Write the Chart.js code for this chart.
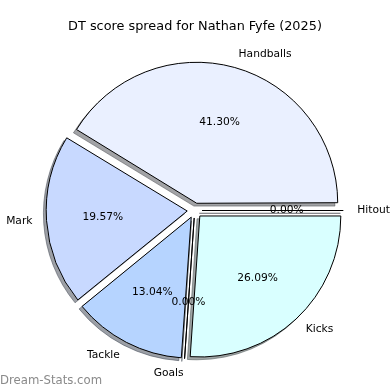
<!DOCTYPE html>
<html><head><meta charset="utf-8">
<script src="https://cdn.jsdelivr.net/npm/chart.js@4/dist/chart.umd.min.js"></script>
<style>html,body{margin:0;padding:0;background:#fff;overflow:hidden}</style>
</head><body>
<canvas id="c" width="390" height="390"></canvas>
<script>
const chartTitle = 'DT score spread for Nathan Fyfe (2025)';
const categories = ['Handballs', 'Mark', 'Tackle', 'Goals', 'Kicks', 'Hitout'];
const dtPoints = [38, 18, 12, 0, 24, 0];
const sliceColors = ['#eaf0ff', '#c8d9ff', '#b6d4ff', '#c0e0ff', '#d9ffff', '#e0f0ff'];
const watermark = 'Dream-Stats.com';

const total = dtPoints.reduce((a, b) => a + b, 0);
const percentLabels = dtPoints.map(v => (v / total * 100).toFixed(2) + '%');

// Chart.js goes clockwise from the start angle; the reference runs counter-clockwise from 3 o'clock
const order = categories.map((_, i) => i).reverse();

const R = 141, EXPLODE = 7.5, SHADOW = 2.8;
const FONT = '"DejaVu Sans", sans-serif';
const LABEL_PX = 10.7;

function hexToRgb(h) {
  h = h.replace('#', '');
  return [0, 2, 4].map(k => parseInt(h.substr(k, 2), 16));
}
function wedgePath(ctx, arc, radius) {
  const e = arc.options.offset / 4;
  const mid = (arc.startAngle + arc.endAngle) / 2;
  const cx = arc.x + Math.cos(mid) * e, cy = arc.y + Math.sin(mid) * e;
  ctx.beginPath();
  ctx.moveTo(cx, cy);
  ctx.arc(cx, cy, radius, arc.startAngle, arc.endAngle);
  ctx.closePath();
}

const piePlugin = {
  id: 'mplPie',
  beforeDatasetsDraw(chart) {
    const ctx = chart.ctx;
    const meta = chart.getDatasetMeta(0);
    meta.data.forEach(arc => {
      const e = arc.options.offset / 4;
      const circ = arc.endAngle - arc.startAngle;
      arc.outerRadius = R - e * (1 - Math.sin(Math.min(Math.PI, circ)));
    });
    ctx.save();
    ctx.translate(-SHADOW, SHADOW);
    meta.data.forEach(arc => {
      const [r, g, b] = hexToRgb(arc.options.backgroundColor);
      const col = `rgba(${Math.round(r * 0.3)},${Math.round(g * 0.3)},${Math.round(b * 0.3)},0.5)`;
      wedgePath(ctx, arc, R);
      ctx.fillStyle = col; ctx.strokeStyle = col; ctx.lineWidth = 1;
      ctx.fill(); ctx.stroke();
    });
    ctx.restore();
  },
  afterDatasetsDraw(chart) {
    const ctx = chart.ctx;
    const meta = chart.getDatasetMeta(0);
    ctx.save();
    // zero-size wedges appear as lines
    meta.data.forEach(arc => {
      if (arc.endAngle - arc.startAngle === 0) {
        wedgePath(ctx, arc, R);
        ctx.strokeStyle = '#000'; ctx.lineWidth = 1; ctx.stroke();
      }
    });
    ctx.fillStyle = '#000';
    ctx.font = LABEL_PX + 'px ' + FONT;
    ctx.textBaseline = 'alphabetic';
    meta.data.forEach((arc, j) => {
      const i = order[j];
      const e = arc.options.offset / 4;
      const mid = (arc.startAngle + arc.endAngle) / 2;
      const dx = Math.cos(mid), dy = Math.sin(mid);
      const lx = arc.x + dx * (e + 1.1 * R), ly = arc.y + dy * (e + 1.1 * R);
      ctx.textAlign = dx > 0 ? 'left' : 'right';
      ctx.fillText(categories[i], lx, ly + 0.265 * LABEL_PX);
      const px = arc.x + dx * (e + 0.6 * R), py = arc.y + dy * (e + 0.6 * R);
      ctx.textAlign = 'center';
      ctx.fillText(percentLabels[i], px, py + 0.265 * LABEL_PX);
    });
    ctx.restore();
  },
  afterDraw(chart) {
    const ctx = chart.ctx;
    ctx.save();
    ctx.fillStyle = '#000';
    ctx.font = '12.85px ' + FONT;
    ctx.textAlign = 'center';
    ctx.textBaseline = 'alphabetic';
    ctx.fillText(chartTitle, 195, 29.8);
    ctx.fillStyle = '#8a8a8a';
    ctx.font = '11.7px ' + FONT;
    ctx.textAlign = 'left';
    ctx.fillText(watermark, 0, 384);
    ctx.restore();
  }
};

new Chart(document.getElementById('c'), {
  type: 'pie',
  data: {
    labels: order.map(i => categories[i]),
    datasets: [{
      data: order.map(i => dtPoints[i]),
      backgroundColor: order.map(i => sliceColors[i]),
      borderColor: '#000',
      borderWidth: 1,
      borderJoinStyle: 'miter',
      offset: EXPLODE * 4
    }]
  },
  options: {
    responsive: false,
    animation: false,
    events: [],
    radius: R,
    rotation: 90,
    layout: { padding: { left: 10, right: 10.6, top: 50, bottom: 19 } },
    plugins: { legend: { display: false }, tooltip: { enabled: false }, title: { display: false } }
  },
  plugins: [piePlugin]
});
</script>
</body></html>
